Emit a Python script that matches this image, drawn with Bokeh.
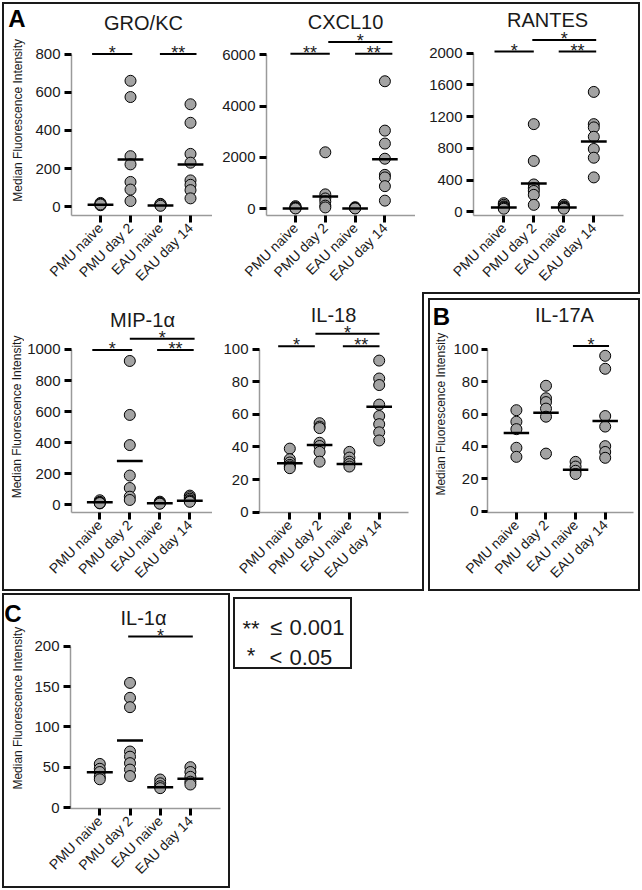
from math import pi
from bokeh.plotting import figure
from bokeh.models import Range1d, FixedTicker, ColumnDataSource
from bokeh.layouts import row, column
from bokeh.embed import file_html
from bokeh.resources import INLINE
from bokeh.core.properties import value

# ---------------- data ----------------
cats = ["PMU naive", "PMU day 2", "EAU naive", "EAU day 14"]

gro_kc = [[20, 15, 10, 8, 12], [660, 575, 265, 222, 130, 90, 30],
          [15, 10, 8, 12, 5], [537, 440, 277, 231, 138, 115, 87, 44]]
gro_kc_line = [10, 248, 7, 221]
gro_kc_sig = [("*", 0.72, 2.06, 800), ("**", 2.98, 4.2, 800)]
gro_kc_ticks = [0, 200, 400, 600, 800]

cxcl10 = [[100, 60, 30, 20, 10], [2200, 560, 400, 280, 120, 50],
          [60, 30, 20, 10], [4970, 3045, 2540, 1950, 1320, 1220, 880, 315]]
cxcl10_line = [10, 478, 5, 1925]
cxcl10_sig = [("**", 0.83, 2.15, 6040), ("**", 3.0, 4.25, 6040), ("*", 2.1, 4.25, 6500)]
cxcl10_ticks = [0, 2000, 4000, 6000]

rantes = [[110, 90, 70, 60, 50, 40], [1106, 642, 346, 300, 264, 215, 89],
          [90, 70, 60, 50, 40], [1512, 1106, 1065, 947, 793, 683, 435]]
rantes_line = [57, 358, 57, 886]
rantes_sig = [("*", 0.69, 2.0, 2020), ("**", 2.83, 4.08, 2020), ("*", 1.95, 4.08, 2167)]
rantes_ticks = [0, 400, 800, 1200, 1600, 2000]

mip1a = [[30, 20, 15, 10, 12], [926, 579, 385, 189, 109, 53, 32],
         [21, 15, 10, 8], [60, 50, 40, 30, 25, 20]]
mip1a_line = [17, 282, 11, 27]
mip1a_sig = [("*", 0.75, 2.08, 996), ("**", 2.91, 4.13, 996), ("*", 2.0, 4.16, 1069)]
mip1a_ticks = [0, 200, 400, 600, 800, 1000]

il18 = [[39, 32.5, 30.5, 29, 28, 27], [54.6, 52.5, 51.6, 42.6, 40.6, 37, 31],
        [37, 33.5, 31, 29.5, 28], [93, 82, 78, 66, 59, 54, 49, 44]]
il18_line = [30, 41.2, 29.5, 64.7]
il18_sig = [("*", 0.61, 1.84, 101.8), ("**", 2.78, 4.01, 101.8), ("*", 1.86, 4.01, 109.4)]
il18_ticks = [0, 20, 40, 60, 80, 100]

il17a = [[62.4, 55.3, 50.7, 39.2, 33.6], [77.5, 69.8, 67.4, 63.4, 58.4, 35.6],
         [30.5, 27.6, 25, 23], [96, 88, 58.8, 52.3, 40.2, 36.6, 33]]
il17a_line = [48.3, 60.8, 25.6, 55.7]
il17a_sig = [("*", 2.91, 4.13, 102)]
il17a_ticks = [0, 20, 40, 60, 80, 100]

il1a = [[54, 48, 44, 38, 35], [154.5, 136, 124.4, 69.4, 63, 55, 47, 39],
        [34.7, 30, 26.4, 24], [50, 44, 38, 32, 28.5]]
il1a_line = [43.8, 83, 25.2, 35.5]
il1a_sig = [("*", 1.94, 4.08, 212)]
il1a_ticks = [0, 50, 100, 150, 200]

legend_stars = ["**", "*"]
legend_ops = ["\u2264", "<"]
legend_vals = ["0.001", "0.05"]

# ---------------- styling ----------------
FONT = "Liberation Sans"
TXT = "#1a1a1a"
BORDER = "2px solid #1a1a1a"
YLABEL = "Median Fluorescence Intensity"
ROT_SHIFT = 33  # compensation for where the rotated text lands


def bare(w, h):
    p = figure(width=w, height=h, x_range=Range1d(0, w), y_range=Range1d(0, h),
               output_backend="svg", toolbar_location=None, x_axis_type=None,
               y_axis_type=None, min_border=0)
    p.grid.visible = False
    p.outline_line_color = None
    return p


def gutter(x0, y0, w, h, letter=None, letter_base=None, ylabel_pos=None):
    """Narrow strip left of a panel holding the panel letter and y title.
    Positions are given in page pixels and converted to the strip's frame."""
    p = bare(w, h)
    if letter is not None:
        p.text(x=[letter_base[0] - x0], y=[y0 + h - letter_base[1]], text=[letter],
               text_align="center", text_baseline="alphabetic",
               text_font=value(FONT), text_font_size="24px",
               text_font_style="bold", text_color="black")
    if ylabel_pos is not None:
        p.text(x=[ylabel_pos[0] - x0], y=[y0 + h - (ylabel_pos[1] + ROT_SHIFT)],
               text=[YLABEL], angle=pi / 2, text_align="center",
               text_baseline="alphabetic", text_font=value(FONT),
               text_font_size="12px", text_color=TXT)
    return p


def panel(geom, title, groups, lines, sig, ticks, title_pos, tick_out=7,
          standoff=4):
    fx, fy, fw, fh = geom["fig"]
    fl, fr, ft, fb = geom["frame"]
    top_val, top_px, zero_px = geom["yscale"]
    cat1_px, sp = geom["xscale"]
    ky = (zero_px - top_px) / top_val
    y_start = -(fb - zero_px) / ky
    y_end = top_val + (top_px - ft) / ky
    x_start = 1 - (cat1_px - fl) / sp
    x_end = x_start + (fr - fl) / sp

    def px2x(px):
        return x_start + (px - fl) / sp

    def py2y(py):
        return y_start + (fb - py) / ky

    p = figure(width=fw, height=fh, x_range=Range1d(x_start, x_end),
               y_range=Range1d(y_start, y_end), output_backend="svg",
               toolbar_location=None, min_border_left=fl - fx,
               min_border_right=fx + fw - fr, min_border_top=ft - fy,
               min_border_bottom=fy + fh - fb)
    p.grid.visible = False
    p.outline_line_color = None

    for ax in (p.xaxis[0], p.yaxis[0]):
        ax.axis_line_color = "#9a9a9a"
        ax.axis_line_width = 1.5
        ax.major_tick_line_color = "black"
        ax.major_tick_line_width = 3
        ax.major_tick_out = 7
        ax.major_tick_in = 0
        ax.minor_tick_line_color = None
        ax.major_label_text_font = FONT
        ax.major_label_text_color = TXT
    p.yaxis.major_tick_out = tick_out
    p.yaxis.ticker = FixedTicker(ticks=ticks)
    p.yaxis.bounds = (y_start, ticks[-1])
    p.yaxis.major_label_text_font_size = "15px"
    p.yaxis.major_label_standoff = standoff
    p.xaxis.ticker = FixedTicker(ticks=[1, 2, 3, 4])
    p.xaxis.major_label_overrides = {i + 1: c for i, c in enumerate(cats)}
    p.xaxis.major_label_orientation = pi / 4
    p.xaxis.major_label_text_font_size = "14px"
    p.xaxis.major_label_standoff = 3

    xs, ys = [], []
    for i, g in enumerate(groups):
        xs += [i + 1] * len(g)
        ys += list(g)
    p.scatter(x=xs, y=ys, size=11, fill_color="#a3a3a3", line_color="black",
              line_width=1)
    cx = [i + 1 for i in range(len(lines))]
    p.segment(x0=[c - 0.43 for c in cx], x1=[c + 0.43 for c in cx], y0=lines,
              y1=lines, line_color="black", line_width=2.5)
    src = ColumnDataSource(dict(
        t=[s[0] for s in sig], x0=[s[1] for s in sig], x1=[s[2] for s in sig],
        y=[s[3] for s in sig], xm=[(s[1] + s[2]) / 2 for s in sig]))
    p.segment(x0="x0", x1="x1", y0="y", y1="y", source=src, line_color="black",
              line_width=2)
    p.text(x="xm", y="y", text="t", source=src, text_align="center",
           text_baseline="alphabetic", y_offset=-1, text_font=value(FONT),
           text_font_size="18px", text_color=TXT)
    p.text(x=[px2x(title_pos[0])], y=[py2y(title_pos[1])], text=[title],
           text_align="center", text_baseline="middle", text_font=value(FONT),
           text_font_size="20px", text_color=TXT)
    return p


g_gro = gutter(4, 4, 23, 288, "A", (16.5, 23.5), (17, 129))
f_gro = panel(dict(fig=(27, 4, 185, 288), frame=(71, 212, 4, 221),
                   yscale=(800, 55, 212), xscale=(100, 30)),
              "GRO/KC", gro_kc, gro_kc_line, gro_kc_sig, gro_kc_ticks, (143, 23))
f_cxcl = panel(dict(fig=(212, 4, 203, 288), frame=(266, 415, 4, 222),
                    yscale=(6000, 56, 215), xscale=(295, 29.8)),
               "CXCL10", cxcl10, cxcl10_line, cxcl10_sig, cxcl10_ticks, (345, 22))
f_rantes = panel(dict(fig=(415, 4, 223, 288), frame=(473, 623, 4, 222),
                      yscale=(2000, 54.3, 218.3), xscale=(503.3, 30)),
                 "RANTES", rantes, rantes_line, rantes_sig, rantes_ticks, (547, 20))
g_mip = gutter(4, 292, 20, 297, ylabel_pos=(16.5, 427))
f_mip = panel(dict(fig=(24, 292, 188, 297), frame=(71, 212, 292, 516),
                   yscale=(1000, 350, 508.3), xscale=(99.3, 30)),
              "MIP-1\u03b1", mip1a, mip1a_line, mip1a_sig, mip1a_ticks, (142, 320))
f_il18 = panel(dict(fig=(212, 292, 210, 297), frame=(259, 408, 292, 516),
                    yscale=(100, 349.7, 515.7), xscale=(289.3, 29.8)),
               "IL-18", il18, il18_line, il18_sig, il18_ticks, (333, 315))
g_il17 = gutter(430, 300, 20, 289, "B", (441, 321.5), (440, 422))
f_il17 = panel(dict(fig=(450, 300, 188, 289), frame=(485, 633, 300, 517),
                    yscale=(100, 350, 515.7), xscale=(514.3, 30)),
               "IL-17A", il17a, il17a_line, il17a_sig, il17a_ticks, (563, 315),
               tick_out=6, standoff=3)
g_il1 = gutter(4, 595, 22, 291, "C", (12.5, 619.5), (17, 716))
f_il1 = panel(dict(fig=(26, 595, 202, 291), frame=(70, 220, 595, 808),
                   yscale=(200, 645.7, 807), xscale=(99.3, 30.2)),
              "IL-1\u03b1", il1a, il1a_line, il1a_sig, il1a_ticks, (143, 617))

# legend box (coordinates: pixels from the box's bottom-left)
f_leg = bare(115, 68)
f_leg.text(x=[15.5, 15.5], y=[39.5, 12], text=legend_stars, text_align="center",
           text_baseline="alphabetic", text_font=value(FONT),
           text_font_size="22px", text_color=TXT)
f_leg.text(x=[40.5, 40.5], y=[40, 10], text=legend_ops, text_align="center",
           text_baseline="alphabetic", text_font=value(FONT),
           text_font_size="22px", text_color=TXT)
f_leg.text(x=[54, 54], y=[40, 10], text=legend_vals, text_align="left",
           text_baseline="alphabetic", text_font=value(FONT),
           text_font_size="22px", text_color=TXT)

# ---------------- layout with panel boxes ----------------
top_a = row(g_gro, f_gro, f_cxcl, f_rantes,
            styles={"border-top": BORDER, "border-left": BORDER,
                    "border-right": BORDER})
bot_a = row(g_mip, f_mip, f_il18,
            styles={"border-left": BORDER, "border-bottom": BORDER})
b_inner = row(g_il17, f_il17, styles={"border": BORDER})
b_outer = column(b_inner, styles={"border-top": BORDER, "border-left": BORDER,
                                  "padding-left": "4px", "padding-top": "4px"})
mid = row(bot_a, b_outer)
c_box = row(g_il1, f_il1, styles={"border": BORDER, "margin-top": "2px"})
leg_box = column(f_leg, styles={"border": BORDER, "margin-top": "6px",
                                "margin-left": "3px"})
bottom = row(c_box, leg_box, styles={"align-items": "flex-start"})
root = column(top_a, mid, bottom, styles={"margin-left": "2px", "margin-top": "2px"})

open("out.html", "w").write(file_html(root, INLINE))
